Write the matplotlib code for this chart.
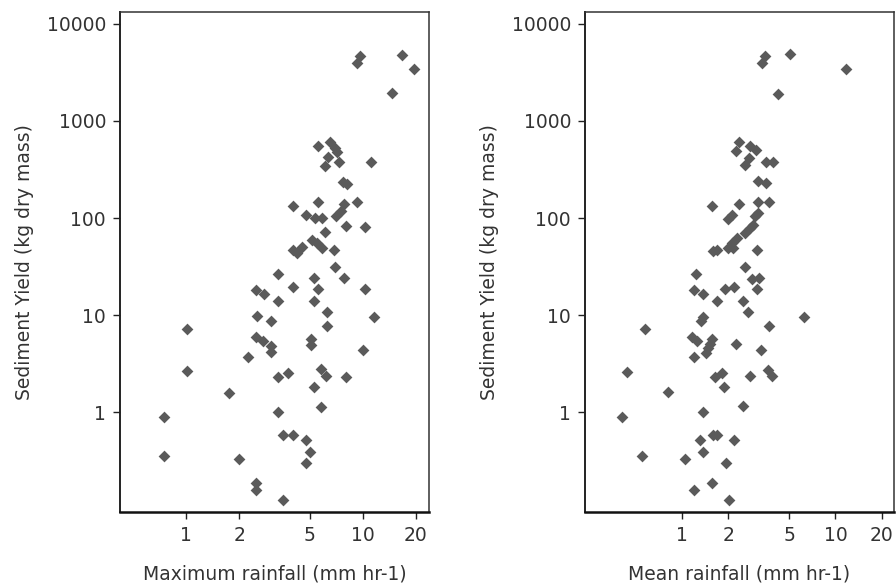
import matplotlib.pyplot as plt

# Sediment yield against maximum rainfall intensity
max_rainfall = [9.25, 9.66, 16.7, 19.5, 14.6, 5.58, 6.53, 6.92, 7.15, 6.32,
                6.12, 7.34, 11.07, 7.71, 8.12, 4.05, 5.58, 7.84, 9.25, 4.76,
                5.37, 5.86, 7.06, 7.51, 8.05, 10.34, 6.12, 5.14, 5.49, 5.86,
                4.05, 4.52, 4.23, 6.88, 7.00, 3.32, 5.32, 7.84, 4.05, 5.58,
                10.34, 2.49, 2.76, 3.32, 5.32, 6.26, 2.51, 3.02, 11.59, 6.26,
                1.01, 2.50, 2.74, 3.02, 3.02, 5.07, 5.07, 10.08, 2.24, 1.01,
                3.31, 3.79, 5.81, 6.16, 8.05, 5.31, 1.74, 5.81, 3.31, 0.751,
                3.53, 4.05, 4.77, 5.06, 4.77, 0.751, 2.00, 2.50, 2.50, 3.53]
yield_max = [3930, 4680, 4820, 3450, 1920, 548, 605, 523, 481, 427,
             345, 378, 378, 236, 225, 132, 145, 139, 145, 108,
             100, 99.5, 104, 117, 83.7, 80.4, 71.4, 59.8, 55.3, 49.1,
             47.2, 49.9, 43.6, 47.2, 31.0, 26.5, 24.1, 24.1, 19.5, 18.6,
             18.7, 18.2, 16.4, 14.1, 14.1, 10.9, 9.72, 8.78, 9.61, 7.80,
             7.21, 5.94, 5.38, 4.80, 4.19, 5.67, 4.97, 4.34, 3.70, 2.63,
             2.33, 2.52, 2.79, 2.35, 2.33, 1.81, 1.59, 1.14, 1.00, 0.888,
             0.587, 0.587, 0.520, 0.388, 0.300, 0.356, 0.328, 0.185, 0.159, 0.124]

# Sediment yield against mean rainfall intensity
mean_rainfall = [3.48, 3.33, 5.09, 11.8, 4.22, 2.36, 2.24, 2.78, 3.02, 2.74,
                 2.58, 3.53, 3.94, 3.15, 3.53, 1.56, 2.36, 3.15, 3.71, 2.11,
                 2.00, 3.15, 2.99, 2.92, 2.78, 2.58, 2.28, 2.11, 2.00, 2.16,
                 1.60, 1.68, 3.09, 2.58, 1.23, 2.85, 3.18, 1.19, 1.36, 1.91,
                 2.19, 3.09, 1.69, 2.50, 2.71, 1.36, 1.32, 6.25, 3.71, 0.574,
                 1.16, 1.25, 1.56, 1.52, 1.48, 1.43, 2.25, 3.26, 1.20, 0.440,
                 1.64, 1.82, 2.78, 3.62, 3.88, 1.87, 0.807, 2.50, 1.37, 0.408,
                 1.60, 1.70, 1.30, 2.19, 1.37, 0.546, 1.05, 1.93, 1.56, 1.20, 2.03]
yield_mean = [4680, 3920, 4840, 3450, 1910, 605, 487, 554, 504, 412,
              349, 378, 378, 242, 229, 132, 139, 145, 145, 108,
              98.4, 113, 104, 85.3, 78.9, 70.1, 62.3, 55.3, 49.1, 49.1,
              45.3, 47.2, 47.2, 31.0, 26.5, 23.7, 24.1, 18.0, 16.6, 18.6,
              19.5, 18.7, 14.1, 14.1, 10.9, 9.49, 8.63, 9.65, 7.80, 7.21,
              5.91, 5.38, 5.70, 5.09, 4.60, 4.08, 5.03, 4.34, 3.72, 2.62,
              2.31, 2.54, 2.35, 2.75, 2.35, 1.81, 1.61, 1.15, 1.01, 0.888,
              0.590, 0.590, 0.518, 0.518, 0.388, 0.358, 0.331, 0.302, 0.185, 0.160, 0.124]

y_ticks = [1, 10, 100, 1000, 10000]
x_ticks = [1, 2, 5, 10, 20]

plt.rcParams['font.family'] = 'DejaVu Sans'
plt.rcParams['font.size'] = 13.5

fig = plt.figure(figsize=(8.96, 5.88), dpi=100)
ax1 = fig.add_axes([0.1339, 0.1293, 0.3449, 0.8503])
ax2 = fig.add_axes([0.6529, 0.1293, 0.3449, 0.8503])


def dibujar(ax, x, y, xlim, xlabel):
    ax.scatter(x, y, marker='D', s=36, color='#5a5a5a', linewidths=0, zorder=3)
    ax.set_xscale('log')
    ax.set_yscale('log')
    ax.set_xlim(xlim)
    ax.set_ylim(0.094, 13250)
    ax.minorticks_off()
    ax.set_xticks(x_ticks)
    ax.set_xticklabels([str(t) for t in x_ticks])
    ax.set_yticks(y_ticks)
    ax.set_yticklabels([str(t) for t in y_ticks])
    ax.tick_params(direction='out', length=5, width=1, color='#222222',
                   labelcolor='#333333', pad=5)
    ax.set_xlabel(xlabel, color='#333333', labelpad=14)
    ax.set_ylabel('Sediment Yield (kg dry mass)', color='#333333', labelpad=9)
    for lado in ['top', 'right']:
        ax.spines[lado].set_linewidth(1.1)
        ax.spines[lado].set_color('#333333')
    ax.spines['left'].set_linewidth(1.4)
    ax.spines['left'].set_color('#222222')
    ax.spines['bottom'].set_linewidth(1.8)
    ax.spines['bottom'].set_color('#111111')


dibujar(ax1, max_rainfall, yield_max, (0.423, 23.7), 'Maximum rainfall (mm hr-1)')
dibujar(ax2, mean_rainfall, yield_mean, (0.233, 24.1), 'Mean rainfall (mm hr-1)')

plt.savefig("out.png", dpi=100)
